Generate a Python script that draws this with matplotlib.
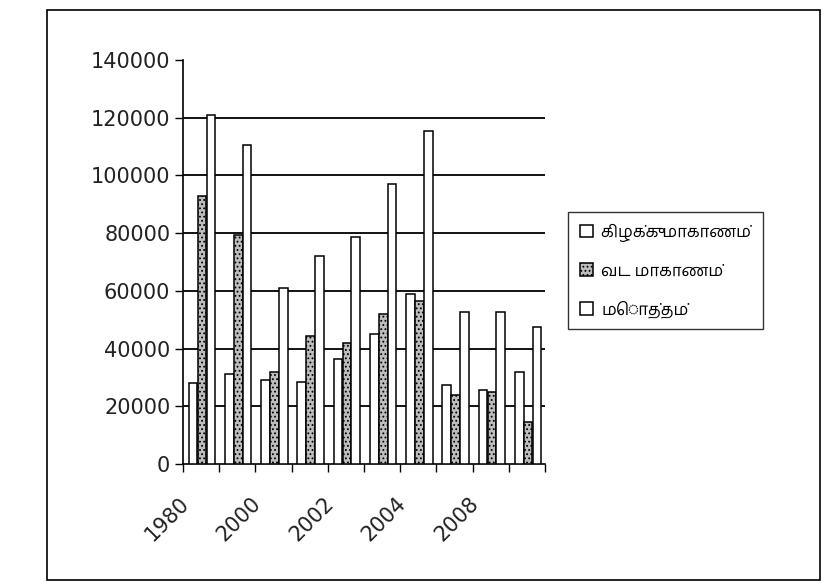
import numpy as np
import matplotlib
matplotlib.use("Agg")
import matplotlib.pyplot as plt
from matplotlib.patches import Rectangle
from matplotlib.transforms import ScaledTranslation

plt.rcParams["font.family"] = ["DejaVu Sans", "Hind Madurai"]
plt.rcParams["hatch.linewidth"] = 0.8

years = ["1980", "", "2000", "", "2002", "", "2004", "", "2008", ""]
series_names = ["கிழக்கு மாகாணம்", "வட மாகாணம்", "மொத்தம்"]

east = [28000, 31000, 29000, 28500, 36500, 45000, 59000, 27500, 25500, 32000]
north = [93000, 79500, 32000, 44500, 42000, 52000, 56500, 24000, 25000, 14500]
total = [121000, 110500, 61000, 72000, 78500, 97000, 115500, 52500, 52500, 47500]

fig = plt.figure(figsize=(8.31, 5.88), dpi=100)
ax = fig.add_axes([0.220, 0.211, 0.436, 0.687])

x = np.arange(len(years))
w = 0.24
styles = [
    dict(facecolor="white", edgecolor="black"),
    dict(facecolor="#bdbdbd", edgecolor="black", hatch="...."),
    dict(facecolor="white", edgecolor="black"),
]
for i, (vals, name) in enumerate(zip([east, north, total], series_names)):
    ax.bar(x + (i - 1) * 0.245 + 0.03, vals, w, label=name, linewidth=1.1,
           zorder=3, **styles[i])

ax.set_xlim(-0.5, len(years) - 0.5)
ax.set_ylim(0, 140000)
ax.set_yticks(np.arange(0, 140001, 20000))
ax.tick_params(axis="y", labelsize=15, labelcolor="#222222", direction="out",
               length=6, width=1, pad=3)
ax.yaxis.grid(True, color="black", linewidth=1.3)
ax.set_axisbelow(True)
ax.get_ygridlines()[-1].set_visible(False)
ax.get_ygridlines()[0].set_visible(False)

# ticks at category edges, labels at category centers
ax.set_xticks(np.arange(len(years) + 1) - 0.5, minor=True)
ax.tick_params(axis="x", which="minor", direction="out", length=6, width=1)
ax.set_xticks(x)
ax.set_xticklabels(years, rotation=45, ha="right", va="center",
                   rotation_mode="anchor", fontsize=15, color="#222222")
ax.tick_params(axis="x", which="major", length=0, pad=26)
for lab in ax.get_xticklabels():
    lab.set_transform(lab.get_transform() + ScaledTranslation(-11 / 72, 0, fig.dpi_scale_trans))

for s in ["top", "right"]:
    ax.spines[s].set_visible(False)
ax.spines["left"].set_linewidth(1.2)
ax.spines["bottom"].set_linewidth(1.2)

leg = fig.legend(loc="upper left", bbox_to_anchor=(568 / 831, 1 - 212 / 588),
                 borderaxespad=0, fancybox=False, edgecolor="black",
                 prop={"family": ["Hind Madurai"], "size": 12},
                 handlelength=0.8, handleheight=0.8, labelspacing=1.3,
                 handletextpad=0.5, borderpad=0.7)
leg.get_frame().set_linewidth(1.0)

# outer frame of the chart
fig.patches.append(Rectangle((47 / 831, 1 - 580 / 588), 773 / 831, 570 / 588,
                             transform=fig.transFigure, fill=False,
                             edgecolor="black", linewidth=1.2))

fig.savefig("out.png", dpi=100)
